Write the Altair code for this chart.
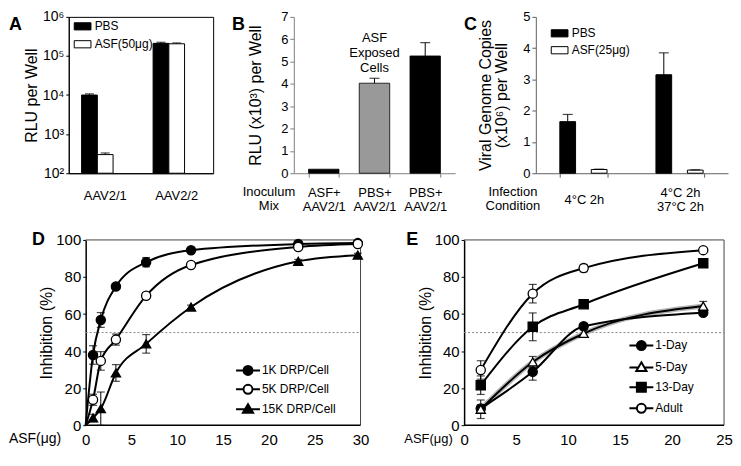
import altair as alt
import pandas as pd

FONT = "Liberation Sans"

# ---------------- data ----------------
# Panel A
a_groups = ["AAV2/1", "AAV2/2"]
a_series = ["PBS", "ASF(50μg)"]
a_pbs = [1.0e4, 2.1e5]
a_pbs_err = [700, 1.4e4]
a_asf = [300, 2.05e5]
a_asf_err = [30, 1.0e4]
a_ticks = [1e2, 1e3, 1e4, 1e5, 1e6]

# Panel B
b_categories = ["ASF+|AAV2/1", "PBS+|AAV2/1 ", "PBS+|AAV2/1"]
b_values = [0.18, 4.03, 5.25]
b_errors = [0.0, 0.22, 0.6]
b_note = ["ASF", "Exposed", "Cells"]
b_mix = ["Inoculum", "Mix"]

# Panel C
c_groups = ["4°C 2h", "4°C 2h|37°C 2h"]
c_series = ["PBS", "ASF(25μg)"]
c_pbs = [1.65, 3.15]
c_pbs_err = [0.23, 0.70]
c_asf = [0.12, 0.10]
c_asf_err = [0.01, 0.01]
c_cond = ["Infection", "Condition"]

# Panel D
d_x = [0, 0.8, 1.65, 3.3, 6.6, 11.5, 23.2, 29.7]
d_series = ["1K DRP/Cell", "5K DRP/Cell", "15K DRP/Cell"]
d_1k = [0, 37.9, 56.8, 74.9, 88.0, 94.4, 97.8, 98.3]
d_5k = [0, 13.7, 34.7, 46.2, 69.9, 86.5, 96.2, 97.8]
d_15k = [0, 3.9, 8.9, 28.2, 43.9, 63.8, 88.5, 91.8]
d_1k_err = [0, 5, 4, 1.5, 2.5, 1, 1, 1]
d_5k_err = [0, 3, 5, 3, 1.5, 1, 1.5, 0.5]
d_15k_err = [0, 2, 9, 4.5, 5, 1, 1, 1]

# Panel E
e_x = [1.6, 6.6, 11.5, 23.0]
e_series = ["1-Day", "5-Day", "13-Day", "Adult"]
e_1day = [9.0, 28.8, 53.4, 60.7]
e_5day = [8.6, 34.1, 49.5, 64.3]
e_13day = [21.6, 53.1, 65.3, 87.4]
e_adult = [29.8, 71.0, 84.8, 94.5]
e_1day_err = [2, 4.5, 1.5, 1.5]
e_5day_err = [5, 3, 2, 2.5]
e_13day_err = [5, 7.5, 1, 1]
e_adult_err = [5, 5, 2, 1]

half_line = [50]
x_title = ["ASF(μg)"]

# ---------------- helpers ----------------
RECT_PATH = "M-1,-0.6H1.8V0.6H-1Z"
P_CIRCLE = "M-1,0H0.25M1.75,0H3M1.75,0A0.75,0.75,0,1,1,0.25,0A0.75,0.75,0,1,1,1.75,0Z"
P_TRI = "M-1,0H0.5M1.5,0H3M1,-0.85L1.85,0.6L0.15,0.6Z"
P_SQUARE = "M-1,0H0.25M1.75,0H3M0.25,-0.75H1.75V0.75H0.25Z"


def letter(ch, x, y):
    return alt.Chart(pd.DataFrame({"t": [ch]})).mark_text(
        font=FONT, fontSize=18, fontWeight="bold", align="left", baseline="top", color="black"
    ).encode(text="t:N", x=alt.value(x), y=alt.value(y))


def side_text(lines, x, y, size=13):
    return alt.Chart(pd.DataFrame({"t": [lines]})).mark_text(
        font=FONT, fontSize=size, align="center", baseline="middle", color="black", lineHeight=14
    ).encode(text="t", x=alt.value(x), y=alt.value(y))


def left_text(s, x, y, size=14):
    return alt.Chart(pd.DataFrame({"t": [s]})).mark_text(
        font=FONT, fontSize=size, align="left", baseline="middle", color="black"
    ).encode(text="t:N", x=alt.value(x), y=alt.value(y))


def bar_legend(x, y, rowpad):
    return alt.Legend(
        title=None, orient="none", legendX=x, legendY=y, symbolType=RECT_PATH,
        symbolSize=144, symbolStrokeColor="black", symbolStrokeWidth=1,
        labelFontSize=12, labelOffset=8, rowPadding=rowpad, padding=0,
        labelFont=FONT, labelColor="black",
    )


def line_legend(x, y, rowpad):
    return alt.Legend(
        title=None, orient="none", legendX=x, legendY=y, symbolSize=144,
        symbolStrokeWidth=2, labelFontSize=12, symbolOpacity=1,
        labelOffset=13, rowPadding=rowpad, padding=0, labelFont=FONT, labelColor="black",
    )


# ---------------- Panel A ----------------
A_W, A_H = 145, 157
rows = []
for i, g in enumerate(a_groups):
    rows.append(dict(group=g, series=a_series[0], value=a_pbs[i], hi=a_pbs[i] + a_pbs_err[i]))
    rows.append(dict(group=g, series=a_series[1], value=a_asf[i], hi=a_asf[i] + a_asf_err[i]))
df_a = pd.DataFrame(rows)

xa_scale = alt.Scale(domain=a_groups, paddingInner=0.34, paddingOuter=0.18)
ya_scale = alt.Scale(type="log", domain=[100, 1e6])
xa_off = alt.XOffset("series:N", scale=alt.Scale(domain=a_series), sort=a_series)
sup = "['⁰','¹','²','³','⁴','⁵','⁶','⁷']"
xa_axis = alt.Axis(title=None, labelAngle=0, ticks=False, labelPadding=22, labelBaseline="middle",
                   labelFontSize=13, domainColor="black")
ya_axis = alt.Axis(title="RLU per Well", values=a_ticks,
                   labelExpr="'10' + " + sup + "[round(log(datum.value) / LN10)]",
                   tickSize=3, labelFontSize=14, titleFontSize=16, titleX=-37, titleBaseline="middle",
                   domainColor="black", tickColor="black")
XA = alt.X("group:N", scale=xa_scale, sort=a_groups, axis=xa_axis)

a_bars = alt.Chart(df_a).mark_bar(stroke="black", strokeWidth=1).encode(
    x=XA, xOffset=xa_off,
    y=alt.Y("value:Q", scale=ya_scale, axis=ya_axis),
    y2=alt.datum(100),
    fill=alt.Fill("series:N", scale=alt.Scale(domain=a_series, range=["black", "white"]),
                  legend=bar_legend(5, 3, 5)),
)
a_err = alt.Chart(df_a).mark_rule(color="black", strokeWidth=1).encode(
    x=XA, xOffset=xa_off, y=alt.Y("value:Q", scale=ya_scale, axis=ya_axis), y2="hi:Q")
a_cap = alt.Chart(df_a).mark_tick(orient="horizontal", color="black", thickness=1.2, size=9).encode(
    x=XA, xOffset=xa_off, y=alt.Y("hi:Q", scale=ya_scale, axis=ya_axis))

chart_a = alt.layer(a_bars, a_err, a_cap, letter("A", -60, -1)).properties(
    width=A_W, height=A_H, view=alt.ViewBackground(stroke="black", strokeWidth=1))

# ---------------- Panel B ----------------
B_W, B_H = 162, 157
df_b = pd.DataFrame({"cat": b_categories, "value": b_values,
                     "hi": [v + e for v, e in zip(b_values, b_errors)],
                     "err": b_errors})
xb_scale = alt.Scale(domain=b_categories, paddingInner=0.4, paddingOuter=0.29)
yb_scale = alt.Scale(domain=[0, 7], nice=False)
xb_axis = alt.Axis(title=None, labelAngle=0, tickBand="extent", tickSize=4, labelPadding=15,
                   labelBaseline="middle", labelExpr="split(datum.label, '|')", labelLineHeight=14,
                   labelFontSize=13, domainColor="#808080", tickColor="#808080")
yb_axis = alt.Axis(title="RLU (x10³) per Well", values=list(range(0, 8)), tickSize=4, labelFontSize=13,
                   titleFontSize=16, titleX=-38, titleBaseline="middle",
                   domainColor="#808080", tickColor="#808080")
XB = alt.X("cat:N", scale=xb_scale, sort=b_categories, axis=xb_axis)

b_bars = alt.Chart(df_b).mark_bar(stroke="black", strokeWidth=0.8).encode(
    x=XB, y=alt.Y("value:Q", scale=yb_scale, axis=yb_axis),
    fill=alt.Fill("cat:N", scale=alt.Scale(domain=b_categories, range=["black", "#999999", "black"]),
                  legend=None),
)
b_err = alt.Chart(df_b).transform_filter("datum.err > 0").mark_rule(color="black", strokeWidth=1).encode(
    x=XB, y=alt.Y("value:Q", scale=yb_scale, axis=yb_axis), y2="hi:Q")
b_cap = alt.Chart(df_b).transform_filter("datum.err > 0").mark_tick(
    orient="horizontal", color="black", thickness=1.2, size=10).encode(
    x=XB, y=alt.Y("hi:Q", scale=yb_scale, axis=yb_axis))
b_label = alt.Chart(pd.DataFrame({"cat": [b_categories[1]], "y": [6.07], "t": [b_note]})).mark_text(
    font=FONT, fontSize=13, lineHeight=15, align="center", baseline="middle", color="black").encode(
    x=XB, y=alt.Y("y:Q", scale=yb_scale, axis=yb_axis), text="t")

chart_b = alt.layer(b_bars, b_err, b_cap, b_label, side_text(b_mix, -25, B_H + 19),
                    letter("B", -62, -1)).properties(
    width=B_W, height=B_H, view=alt.ViewBackground(stroke="transparent"))

# ---------------- Panel C ----------------
C_W, C_H = 193, 157
rows = []
for i, g in enumerate(c_groups):
    rows.append(dict(group=g, series=c_series[0], value=c_pbs[i], hi=c_pbs[i] + c_pbs_err[i]))
    rows.append(dict(group=g, series=c_series[1], value=c_asf[i], hi=c_asf[i] + c_asf_err[i]))
df_c = pd.DataFrame(rows)
xc_scale = alt.Scale(domain=c_groups, paddingInner=0.5, paddingOuter=0.25)
yc_scale = alt.Scale(domain=[0, 5], nice=False)
xc_off = alt.XOffset("series:N", scale=alt.Scale(domain=c_series), sort=c_series)
xc_axis = alt.Axis(title=None, labelAngle=0, tickBand="extent", tickSize=4,
                   labelPadding={"condition": {"test": "indexof(datum.label, '|') < 0", "value": 22},
                                 "value": 15},
                   labelBaseline="middle", labelExpr="split(datum.label, '|')", labelLineHeight=14,
                   labelFontSize=13, domainColor="#606060", tickColor="#606060")
yc_axis = alt.Axis(title=["Viral Genome Copies", "(x10⁶) per Well"], values=list(range(0, 6)), tickSize=4,
                   labelFontSize=13, titleFontSize=16, titleLineHeight=17, titleX=-51,
                   titleBaseline="middle", domainColor="#606060", tickColor="#606060")
XC = alt.X("group:N", scale=xc_scale, sort=c_groups, axis=xc_axis)

c_bars = alt.Chart(df_c).mark_bar(stroke="black", strokeWidth=1).encode(
    x=XC, xOffset=xc_off, y=alt.Y("value:Q", scale=yc_scale, axis=yc_axis),
    fill=alt.Fill("series:N", scale=alt.Scale(domain=c_series, range=["black", "white"]),
                  legend=bar_legend(15, 10, 4)),
)
c_err = alt.Chart(df_c).mark_rule(color="black", strokeWidth=1).encode(
    x=XC, xOffset=xc_off, y=alt.Y("value:Q", scale=yc_scale, axis=yc_axis), y2="hi:Q")
c_cap = alt.Chart(df_c).mark_tick(orient="horizontal", color="black", thickness=1.2, size=10).encode(
    x=XC, xOffset=xc_off, y=alt.Y("hi:Q", scale=yc_scale, axis=yc_axis))

chart_c = alt.layer(c_bars, c_err, c_cap, side_text(c_cond, -23, C_H + 19),
                    letter("C", -72, -1)).properties(
    width=C_W, height=C_H, view=alt.ViewBackground(stroke="transparent"))


# ---------------- Panels D & E ----------------
def curve_panel(xs, series, ys_list, errs_list, xmax, shapes, fills, paths, leg_x, leg_y, leg_pad,
                W, H, let, let_x, asf_x, asf_size, left_pad=0, grey_series=None):
    rows = []
    for s, ys, es in zip(series, ys_list, errs_list):
        for x, y, e in zip(xs, ys, es):
            rows.append(dict(series=s, x=x, y=y, lo=y - e, hi=y + e, err=e))
    df = pd.DataFrame(rows)
    xmin = -xmax * left_pad / W
    xs_scale = alt.Scale(domain=[xmin, xmax], nice=False, zero=False)
    ys_scale = alt.Scale(domain=[0, 100], nice=False)
    x_axis = alt.Axis(title=None, values=list(range(0, xmax + 1, 5)), tickSize=0, labelPadding=14,
                      labelBaseline="middle", labelFlush=False, labelFontSize=15, grid=False,
                      domain=False)
    y_axis = alt.Axis(title="Inhibition (%)", values=list(range(0, 101, 20)), tickSize=3, labelFontSize=15,
                      titleFontSize=16, titleX=-39, titleBaseline="middle", grid=False,
                      domainColor="black", domainWidth=1.5, tickColor="black", offset=-left_pad)
    X = alt.X("x:Q", scale=xs_scale, axis=x_axis)

    def Yf(f):
        return alt.Y(f + ":Q", scale=ys_scale, axis=y_axis)

    base = alt.Chart(df)
    layers = []
    # thin frame (top and right) and the bottom axis line
    frame = pd.DataFrame({"x": [0, xmax], "x2": [xmax, xmax], "y": [100, 0], "y2": [100, 100]})
    layers.append(alt.Chart(frame).mark_rule(color="#444444", strokeWidth=1).encode(
        x=X, x2="x2:Q", y=Yf("y"), y2="y2:Q"))
    layers.append(alt.Chart(pd.DataFrame({"y": half_line, "x": [0], "x2": [xmax]})).mark_rule(
        color="#888888", strokeDash=[2, 2], strokeWidth=1).encode(x=X, x2="x2:Q", y=Yf("y")))
    if grey_series is not None:
        layers.append(base.transform_filter(alt.datum.series == grey_series).mark_line(
            interpolate="monotone", color="#b5b5b5", strokeWidth=5).encode(x=X, y=Yf("y")))
    layers.append(base.mark_line(interpolate="monotone", color="black", strokeWidth=2).encode(
        x=X, y=Yf("y"), detail="series:N"))
    eb = base.transform_filter("datum.err > 0")
    layers.append(eb.mark_rule(color="black", strokeWidth=1).encode(x=X, y=Yf("lo"), y2="hi:Q"))
    layers.append(eb.mark_tick(orient="horizontal", color="black", thickness=1.2, size=8).encode(
        x=X, y=Yf("lo")))
    layers.append(eb.mark_tick(orient="horizontal", color="black", thickness=1.2, size=8).encode(
        x=X, y=Yf("hi")))
    layers.append(alt.Chart(pd.DataFrame({"x": [0], "x2": [xmax], "y": [0]})).mark_rule(
        color="black", strokeWidth=1.5).encode(x=X, x2="x2:Q", y=Yf("y")))
    layers.append(base.transform_filter("datum.x > 0").mark_point(
        filled=True, size=85, stroke="black", strokeWidth=1.3, opacity=1).encode(
        x=X, y=Yf("y"),
        shape=alt.Shape("series:N", scale=alt.Scale(domain=series, range=shapes), legend=None),
        fill=alt.Fill("series:N", scale=alt.Scale(domain=series, range=fills), legend=None)))
    leg = line_legend(leg_x + left_pad, leg_y, leg_pad)
    layers.append(base.transform_filter("false").mark_point(
        filled=True, size=144, strokeWidth=2, opacity=1).encode(
        x=X, y=Yf("y"),
        shape=alt.Shape("series:N", scale=alt.Scale(domain=series, range=paths), legend=leg),
        fill=alt.Fill("series:N", scale=alt.Scale(domain=series, range=fills), legend=leg),
        stroke=alt.Stroke("series:N", scale=alt.Scale(domain=series, range=["black"] * len(series)),
                          legend=leg)))
    layers.append(letter(let, let_x + left_pad, -9))
    layers.append(left_text(x_title[0], asf_x + left_pad, H + 14, asf_size))
    return alt.layer(*layers).resolve_scale(
        shape="independent", fill="independent", stroke="independent").properties(
        width=W + left_pad, height=H, view=alt.ViewBackground(stroke="transparent"))


D_W, D_H = 276, 186
E_W, E_H = 261, 186
D_SHIFT = 17
chart_d = curve_panel(
    d_x, d_series, [d_1k, d_5k, d_15k], [d_1k_err, d_5k_err, d_15k_err], 30,
    ["circle", "circle", "triangle-up"], ["black", "white", "black"], [P_CIRCLE, P_CIRCLE, P_TRI],
    150, 124, 1, D_W, D_H, "D", -54, -77, 14, left_pad=D_SHIFT)
chart_e = curve_panel(
    e_x, e_series, [e_1day, e_5day, e_13day, e_adult],
    [e_1day_err, e_5day_err, e_13day_err, e_adult_err], 25,
    ["circle", "triangle-up", "square", "circle"], ["black", "white", "black", "white"],
    [P_CIRCLE, P_TRI, P_SQUARE, P_CIRCLE],
    165, 99, 3, E_W, E_H, "E", -58, -60, 13, grey_series="5-Day")

row1 = alt.hconcat(chart_a, chart_b, chart_c, spacing=81, bounds="flush").resolve_scale(
    fill="independent")
row2 = alt.hconcat(chart_d, chart_e, spacing=104, bounds="flush").resolve_scale(
    fill="independent", shape="independent", stroke="independent")

chart = alt.vconcat(row1, row2, spacing=16).resolve_scale(
    fill="independent", shape="independent", stroke="independent"
).properties(
    padding={"left": 0, "top": 0, "right": 0, "bottom": 0}
).configure(font=FONT).configure_axis(
    labelFont=FONT, titleFont=FONT, labelColor="black", titleColor="black",
    titleFontWeight="normal", grid=False
).configure_legend(labelFont=FONT)

chart.save("out.html", embed_options={"renderer": "svg", "actions": False})
